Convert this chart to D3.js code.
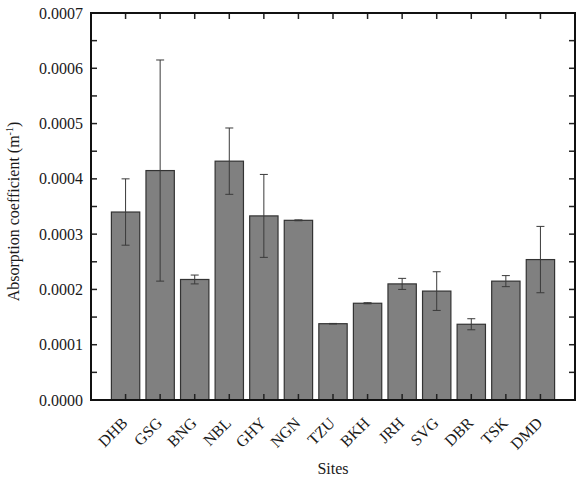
<!DOCTYPE html>
<html>
<head>
<meta charset="utf-8">
<script src="https://cdn.jsdelivr.net/npm/d3@7/dist/d3.min.js"></script>
<style>
  body { margin: 0; background: #fff; }
</style>
</head>
<body>
<svg class="chart"></svg>
<script>
(function () {
    'use strict';

    // data
    var sites = ["DHB", "GSG", "BNG", "NBL", "GHY", "NGN", "TZU", "BKH", "JRH", "SVG", "DBR", "TSK", "DMD"];
    var means = [0.000340, 0.000415, 0.000218, 0.000432, 0.000333, 0.000325, 0.000138, 0.000175, 0.000210, 0.000197, 0.000137, 0.000215, 0.000254];
    var errors = [0.000060, 0.000200, 0.000008, 0.000060, 0.000075, 0.0000008, 0.0000005, 0.0000010, 0.000010, 0.000035, 0.000010, 0.000010, 0.000060];
    var yTicks = [0, 0.0001, 0.0002, 0.0003, 0.0004, 0.0005, 0.0006, 0.0007];

    var margin = {top: 13, right: 6, bottom: 82, left: 91},
        width = 581 - margin.left - margin.right,
        height = 482 - margin.top - margin.bottom;

    var svg = d3.select(".chart")
        .attr("width", 581)
        .attr("height", 482)
        .attr("font-family", "'Liberation Serif', 'Times New Roman', Times, serif")
        .attr("fill", "#1a1a1a");

    var chart = svg.append("g")
        .attr("transform", "translate(" + margin.left + "," + margin.top + ")");

    var pi = 0.18;
    var x = d3.scaleBand()
        .domain(sites)
        .range([0, width])
        .paddingInner(pi)
        .paddingOuter(0.5 + pi / 2);

    var y = d3.scaleLinear()
        .domain([0, 0.0007])
        .range([height, 0]);

    // bars
    chart.selectAll(".bar")
        .data(sites)
        .enter().append("rect")
        .attr("class", "bar")
        .attr("x", function(d) { return x(d); })
        .attr("width", x.bandwidth())
        .attr("y", function(d, i) { return y(means[i]); })
        .attr("height", function(d, i) { return height - y(means[i]); })
        .style("fill", "#808080")
        .style("stroke", "#333")
        .style("stroke-width", 1.2);

    // error bars
    var cap = 4;
    var err = chart.selectAll(".err")
        .data(sites)
        .enter().append("g")
        .attr("class", "err")
        .style("stroke", "#3a3a3a")
        .style("stroke-width", 1);

    err.append("line")
        .attr("x1", function(d) { return x(d) + x.bandwidth() / 2; })
        .attr("x2", function(d) { return x(d) + x.bandwidth() / 2; })
        .attr("y1", function(d, i) { return y(means[i] + errors[i]); })
        .attr("y2", function(d, i) { return y(means[i] - errors[i]); });

    [1, -1].forEach(function(sign) {
        err.append("line")
            .attr("x1", function(d) { return x(d) + x.bandwidth() / 2 - cap; })
            .attr("x2", function(d) { return x(d) + x.bandwidth() / 2 + cap; })
            .attr("y1", function(d, i) { return y(means[i] + sign * errors[i]); })
            .attr("y2", function(d, i) { return y(means[i] + sign * errors[i]); });
    });

    // tick marks on all four sides, pointing inward
    var tickLen = 6;
    var minorTicks = d3.range(0.00005, 0.0007, 0.0001);
    var allYTicks = yTicks.concat(minorTicks);

    var ticks = chart.append("g")
        .style("stroke", "#222")
        .style("stroke-width", 1.5);

    ticks.selectAll(".yl")
        .data(allYTicks)
        .enter().append("line")
        .attr("x1", 0).attr("x2", tickLen)
        .attr("y1", function(d) { return y(d); })
        .attr("y2", function(d) { return y(d); });

    ticks.selectAll(".yr")
        .data(allYTicks)
        .enter().append("line")
        .attr("x1", width - tickLen).attr("x2", width)
        .attr("y1", function(d) { return y(d); })
        .attr("y2", function(d) { return y(d); });

    ticks.selectAll(".xb")
        .data(sites)
        .enter().append("line")
        .attr("x1", function(d) { return x(d) + x.bandwidth() / 2; })
        .attr("x2", function(d) { return x(d) + x.bandwidth() / 2; })
        .attr("y1", height).attr("y2", height - tickLen);

    ticks.selectAll(".xt")
        .data(sites)
        .enter().append("line")
        .attr("x1", function(d) { return x(d) + x.bandwidth() / 2; })
        .attr("x2", function(d) { return x(d) + x.bandwidth() / 2; })
        .attr("y1", 0).attr("y2", tickLen);

    // frame
    chart.append("rect")
        .attr("width", width)
        .attr("height", height)
        .style("fill", "none")
        .style("stroke", "#111")
        .style("stroke-width", 2);

    // y tick labels
    chart.selectAll(".ylab")
        .data(yTicks)
        .enter().append("text")
        .attr("x", -8)
        .attr("y", function(d) { return y(d); })
        .attr("dy", "0.35em")
        .attr("text-anchor", "end")
        .attr("font-size", 16)
        .text(d3.format(".4f"));

    // x tick labels, rotated
    chart.selectAll(".xlab")
        .data(sites)
        .enter().append("text")
        .attr("text-anchor", "end")
        .attr("transform", function(d) {
            return "translate(" + (x(d) + x.bandwidth() / 2 + 3) + "," + (height + 24) + ") rotate(-45)";
        })
        .attr("font-size", 16)
        .text(function(d) { return d; });

    // axis titles
    chart.append("text")
        .attr("x", width / 2)
        .attr("y", height + 74)
        .attr("text-anchor", "middle")
        .attr("font-size", 16)
        .text("Sites");

    var yt = chart.append("text")
        .attr("transform", "translate(" + (-72) + "," + (height / 2 + 5) + ") rotate(-90)")
        .attr("text-anchor", "middle")
        .attr("font-size", 16);
    yt.append("tspan").text("Absorption coefficient (m");
    yt.append("tspan").attr("dy", -6).attr("font-size", 10).text("-1");
    yt.append("tspan").attr("dy", 6).text(")");
})();
</script>
</body>
</html>
